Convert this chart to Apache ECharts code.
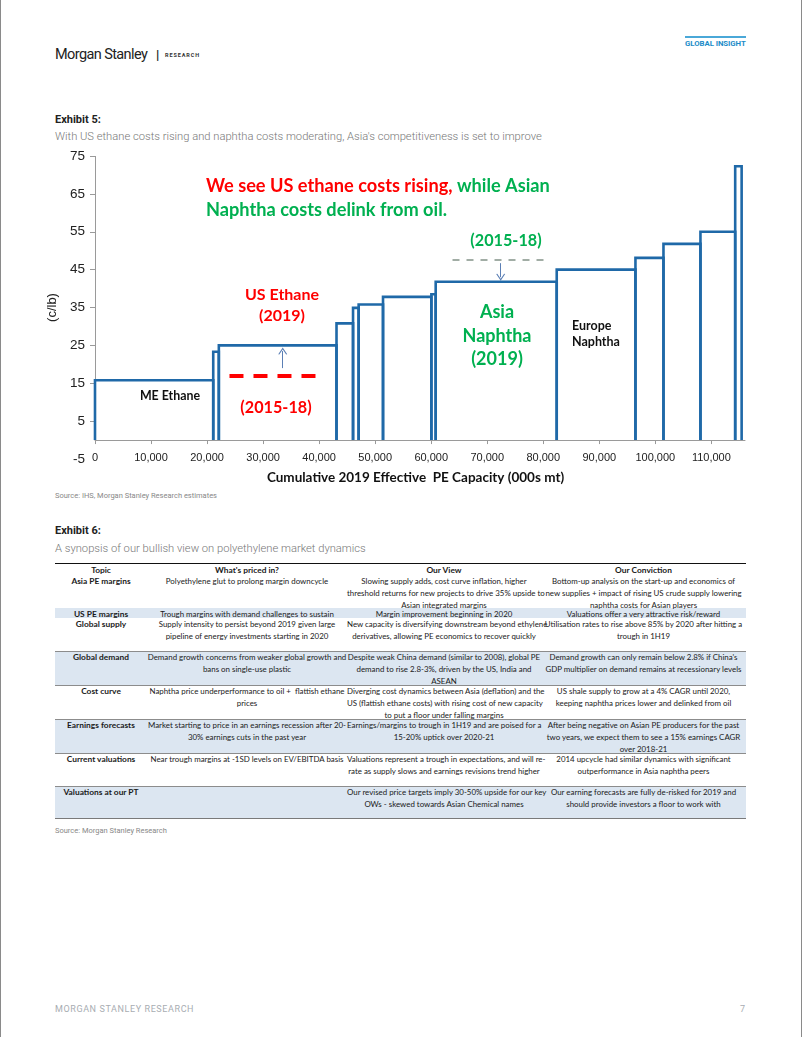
<!DOCTYPE html>
<html>
<head>
<meta charset="utf-8">
<script src="https://cdn.jsdelivr.net/npm/echarts@6/dist/echarts.min.js"></script>
<style>
  html, body { margin:0; padding:0; background:#fff; }
  body { width:802px; height:1037px; position:relative; overflow:hidden; font-family: Roboto, "Noto Sans", sans-serif; }
  .abs { position:absolute; white-space:nowrap; }
  .edge { position:absolute; top:0; width:1px; height:1037px; background:#8a8a8a; }
  .cell { position:absolute; text-align:center; white-space:pre; font-family: Lato, "Noto Sans", sans-serif; font-size:7.9px; line-height:12px; color:#1a1a1a; }
  .cell.b { font-weight:bold; font-size:8.4px; }
  .rule { position:absolute; left:55px; width:691px; }
</style>
</head>
<body>
<div class="edge" style="left:0"></div>
<div class="edge" style="left:801px"></div>

<div class="abs" style="left:55px;top:46px;font-size:14.5px;line-height:18px;color:#222;letter-spacing:-0.6px;font-family:Roboto">Morgan Stanley</div>
<div class="abs" style="left:156px;top:47px;font-size:13px;line-height:16px;color:#222;font-weight:bold">|</div>
<div class="abs" style="left:165px;top:52px;font-size:5.5px;line-height:7px;color:#333;font-weight:bold;letter-spacing:0.9px">RESEARCH</div>
<div class="abs" style="left:685px;top:36px;width:61px;height:2px;background:#4aa8d8"></div>
<div class="abs" style="left:685px;top:39px;font-size:7.8px;line-height:10px;color:#1a8cc8;font-weight:bold;letter-spacing:-0.05px">GLOBAL INSIGHT</div>

<div class="abs" style="left:55px;top:113px;font-size:11px;line-height:14px;color:#222;font-weight:bold">Exhibit 5:</div>
<div class="abs" style="left:55px;top:130px;font-size:11.2px;line-height:14px;color:#777;font-weight:300">With US ethane costs rising and naphtha costs moderating, Asia's competitiveness is set to improve</div>

<div id="chart" style="position:absolute;left:0;top:145px;width:802px;height:345px;"></div>

<div class="abs" style="left:55px;top:491px;font-size:7.5px;line-height:10px;color:#888">Source: IHS, Morgan Stanley Research estimates</div>

<div class="abs" style="left:55px;top:524px;font-size:11px;line-height:14px;color:#222;font-weight:bold">Exhibit 6:</div>
<div class="abs" style="left:55px;top:542px;font-size:11.2px;line-height:14px;color:#777;font-weight:300">A synopsis of our bullish view on polyethylene market dynamics</div>

<div id="table"></div>

<div class="abs" style="left:55px;top:826px;font-size:7.5px;line-height:10px;color:#888">Source: Morgan Stanley Research</div>

<div class="abs" style="left:55px;top:1004px;font-size:9px;line-height:11px;color:#a8adb2;letter-spacing:0.6px">MORGAN STANLEY RESEARCH</div>
<div class="abs" style="left:740px;top:1004px;font-size:9px;line-height:11px;color:#a8adb2">7</div>

<script>
// ---------- Exhibit 5 data ----------
const capacityEdges = [0, 21100, 22100, 43100, 46050, 47050, 51400, 60030, 60800, 82400, 96450, 101450, 108050, 114250, 115400];
const cashCosts = [15.8, 23.3, 25.0, 30.8, 34.9, 35.8, 37.8, 38.5, 41.8, 45.0, 48.1, 51.8, 55.0, 72.3];
const xTickValues = [0, 10000, 20000, 30000, 40000, 50000, 60000, 70000, 80000, 90000, 100000, 110000];
const yTickValues = [-5, 5, 15, 25, 35, 45, 55, 65, 75];
const usEthaneHist = [24000, 40300, 17.0];      // from, to, cost (2015-18)
const asiaNaphthaHist = [63800, 81100, 47.7];   // from, to, cost (2015-18)
const usArrow = [33500, 19.0, 23.5];            // x, from, to
const asiaArrow = [72400, 46.7, 43.0];          // x, from, to

// ---------- Exhibit 6 data ----------
const tableHeader = ["Topic", "What's priced in?", "Our View", "Our Conviction"];
const tableTopics = ["Asia PE margins", "US PE margins", "Global supply", "Global demand", "Cost curve", "Earnings forecasts", "Current valuations", "Valuations at our PT"];
const tablePriced = [
  "Polyethylene glut to prolong margin downcycle",
  "Trough margins with demand challenges to sustain",
  "Supply intensity to persist beyond 2019 given large\npipeline of energy investments starting in 2020",
  "Demand growth concerns from weaker global growth and\nbans on single-use plastic",
  "Naphtha price underperformance to oil +  flattish ethane\nprices",
  "Market starting to price in an earnings recession after 20-\n30% earnings cuts in the past year",
  "Near trough margins at -1SD levels on EV/EBITDA basis",
  ""
];
const tableView = [
  "Slowing supply adds, cost curve inflation, higher\nthreshold returns for new projects to drive 35% upside to\nAsian integrated margins",
  "Margin improvement beginning in 2020",
  "New capacity is diversifying downstream beyond ethylene\nderivatives, allowing PE economics to recover quickly",
  "Despite weak China demand (similar to 2008), global PE\ndemand to rise 2.8-3%, driven by the US, India and\nASEAN",
  "Diverging cost dynamics between Asia (deflation) and the\nUS (flattish ethane costs) with rising cost of new capacity\nto put a floor under falling margins",
  "Earnings/margins to trough in 1H19 and are poised for a\n15-20% uptick over 2020-21",
  "Valuations represent a trough in expectations, and will re-\nrate as supply slows and earnings revisions trend higher",
  "Our revised price targets imply 30-50% upside for our key\nOWs - skewed towards Asian Chemical names"
];
const tableConviction = [
  "Bottom-up analysis on the start-up and economics of\nnew supplies + impact of rising US crude supply lowering\nnaphtha costs for Asian players",
  "Valuations offer a very attractive risk/reward",
  "Utilisation rates to rise above 85% by 2020 after hitting a\ntrough in 1H19",
  "Demand growth can only remain below 2.8% if China's\nGDP multiplier on demand remains at recessionary levels",
  "US shale supply to grow at a 4% CAGR until 2020,\nkeeping naphtha prices lower and delinked from oil",
  "After being negative on Asian PE producers for the past\ntwo years, we expect them to see a 15% earnings CAGR\nover 2018-21",
  "2014 upcycle had similar dynamics with significant\noutperformance in Asia naphtha peers",
  "Our earning forecasts are fully de-risked for 2019 and\nshould provide investors a floor to work with"
];

// ---------- build table ----------
(function buildTable() {
  const host = document.getElementById('table');
  const colLeft = [55, 147, 347, 541];
  const colWidth = [92, 200, 194, 205];
  const rowTop = [575, 608, 618, 651, 685, 719, 753, 786];
  const rowBottom = 818;
  const shaded = [1, 3, 5, 7];
  let html = '';
  rowTop.forEach((t, i) => {
    const b = i + 1 < rowTop.length ? rowTop[i + 1] : rowBottom;
    if (shaded.includes(i)) html += `<div class="rule" style="top:${t}px;height:${b - t}px;background:#dce6f1"></div>`;
  });
  [651, 685, 719, 753, 786].forEach(y => { html += `<div class="rule" style="top:${y - 0.5}px;height:1.5px;background:#8c8c8c"></div>`; });
  html += `<div class="rule" style="top:${rowBottom - 0.5}px;height:1.5px;background:#7a7a7a"></div>`;
  html += `<div class="rule" style="top:562.5px;height:1.6px;background:#111"></div>`;
  tableHeader.forEach((h, c) => {
    html += `<div class="cell b" style="left:${colLeft[c]}px;width:${colWidth[c]}px;top:564px">${h}</div>`;
  });
  const cols = [tableTopics, tablePriced, tableView, tableConviction];
  rowTop.forEach((t, i) => {
    cols.forEach((col, c) => {
      const txt = col[i].replace(/&/g, '&amp;').replace(/</g, '&lt;');
      html += `<div class="cell${c === 0 ? ' b' : ''}" style="left:${colLeft[c]}px;width:${colWidth[c]}px;top:${t}px">${txt}</div>`;
    });
  });
  host.innerHTML = html;
})();

// ---------- chart ----------
const chart = echarts.init(document.getElementById('chart'), null, { renderer: 'canvas' });
const stepData = cashCosts.map((c, i) => [capacityEdges[i], capacityEdges[i + 1], c]);
const BLUE = '#1f69a8';
const RED = '#ff0000';
const GREEN = '#00b050';
const calFont = 'Lato, "Open Sans", sans-serif';
const chevron = 'path://M0,10 L5,0 L10,10 L8.8,10.6 L5,3 L1.2,10.6 Z';

chart.setOption({
  animation: false,
  grid: { left: 95, right: 57, top: 11, bottom: 31, containLabel: false, outerBoundsMode: 'none' },
  xAxis: {
    type: 'value', min: 0, max: 116000,
    axisLine: { onZero: true, lineStyle: { color: '#9a9a9a', width: 1 } },
    axisTick: { show: true, length: 4, inside: false, customValues: xTickValues, lineStyle: { color: '#9a9a9a' } },
    axisLabel: {
      customValues: xTickValues, margin: -7, fontSize: 11, color: '#222',
      fontFamily: 'Liberation Sans, Arial, sans-serif',
      formatter: v => Number(v).toLocaleString('en-US')
    },
    splitLine: { show: false },
    name: 'Cumulative 2019 Effective  PE Capacity (000s mt)',
    nameLocation: 'middle', nameGap: 12,
    nameTextStyle: { fontFamily: calFont, fontWeight: 'bold', fontSize: 13.5, color: '#111', padding: [0, 9, 0, 0] }
  },
  yAxis: {
    type: 'value', min: -5, max: 75,
    axisLine: { show: false },
    axisTick: { show: true, length: 5, customValues: yTickValues.slice(1), lineStyle: { color: '#9a9a9a' } },
    axisLabel: { customValues: yTickValues, margin: 10, fontSize: 13.5, color: '#222', fontFamily: 'Liberation Sans, Arial, sans-serif' },
    splitLine: { show: false },
    name: '(c/lb)', nameLocation: 'middle', nameGap: 30, nameRotate: 90,
    nameTextStyle: { fontSize: 13, color: '#222', fontFamily: 'Liberation Sans, Arial, sans-serif' }
  },
  series: [
    {
      type: 'custom',
      name: 'Cost curve',
      data: stepData,
      encode: { x: [0, 1], y: 2 },
      z: 5,
      renderItem: function (params, api) {
        const x0 = api.value(0), x1 = api.value(1), y = api.value(2);
        const p0 = api.coord([x0, 0]), p1 = api.coord([x0, y]), p2 = api.coord([x1, y]), p3 = api.coord([x1, 0]);
        return {
          type: 'polyline',
          shape: { points: [p0, p1, p2, p3] },
          style: { fill: 'none', stroke: BLUE, lineWidth: 2.6, lineJoin: 'miter' }
        };
      }
    },
    {
      type: 'line', name: 'guides', data: [], silent: true, z: 3,
      markLine: {
        silent: true, symbol: ['none', 'none'], label: { show: false }, animation: false,
        data: [
          [{ coord: [0, 0], lineStyle: { color: '#9a9a9a', width: 1, type: 'solid' } }, { coord: [0, 75] }],
          [{ coord: [usEthaneHist[0], usEthaneHist[2]], lineStyle: { color: RED, width: 4, type: [14, 10] } }, { coord: [usEthaneHist[1], usEthaneHist[2]] }],
          [{ coord: [asiaNaphthaHist[0], asiaNaphthaHist[2]], lineStyle: { color: '#8a9a90', width: 1.6, type: [7, 7] } }, { coord: [asiaNaphthaHist[1], asiaNaphthaHist[2]] }]
        ]
      }
    },
    {
      type: 'line', name: 'arrows', data: [], silent: true, z: 4,
      markLine: {
        silent: true, symbol: ['none', chevron], symbolSize: [9, 7], label: { show: false }, animation: false,
        lineStyle: { color: '#5b7fb5', width: 1, type: 'solid' },
        data: [
          [{ coord: [usArrow[0], usArrow[1]] }, { coord: [usArrow[0], usArrow[2]] }],
          [{ coord: [asiaArrow[0], asiaArrow[1]] }, { coord: [asiaArrow[0], asiaArrow[2]] }]
        ]
      }
    }
  ],
  graphic: [
    {
      type: 'text', x: 206, y: 29, z: 10,
      style: {
        text: '{r|We see US ethane costs rising,} {g|while Asian}\n{g|Naphtha costs delink from oil.}',
        font: 'bold 18.2px ' + calFont, verticalAlign: 'top', align: 'left',
        rich: {
          r: { fill: RED, font: 'bold 18.2px ' + calFont, lineHeight: 24 },
          g: { fill: GREEN, font: 'bold 18.2px ' + calFont, lineHeight: 24 }
        }
      }
    },
    { type: 'text', x: 506, y: 96, style: { text: '(2015-18)', fill: GREEN, font: 'bold 16.2px ' + calFont, align: 'center', verticalAlign: 'middle' } },
    { type: 'text', x: 282, y: 150, style: { text: 'US Ethane', fill: RED, font: 'bold 16px ' + calFont, align: 'center', verticalAlign: 'middle' } },
    { type: 'text', x: 282, y: 171, style: { text: '(2019)', fill: RED, font: 'bold 16px ' + calFont, align: 'center', verticalAlign: 'middle' } },
    { type: 'text', x: 276, y: 263, style: { text: '(2015-18)', fill: RED, font: 'bold 16.2px ' + calFont, align: 'center', verticalAlign: 'middle' } },
    { type: 'text', x: 170, y: 251, style: { text: 'ME Ethane', fill: '#111', font: 'bold 12.4px ' + calFont, align: 'center', verticalAlign: 'middle' } },
    { type: 'text', x: 497, y: 167, style: { text: 'Asia', fill: GREEN, font: 'bold 18px ' + calFont, align: 'center', verticalAlign: 'middle' } },
    { type: 'text', x: 497, y: 191, style: { text: 'Naphtha', fill: GREEN, font: 'bold 18px ' + calFont, align: 'center', verticalAlign: 'middle' } },
    { type: 'text', x: 497, y: 214, style: { text: '(2019)', fill: GREEN, font: 'bold 18px ' + calFont, align: 'center', verticalAlign: 'middle' } },
    { type: 'text', x: 572, y: 181, style: { text: 'Europe', fill: '#111', font: 'bold 12.5px ' + calFont, align: 'left', verticalAlign: 'middle' } },
    { type: 'text', x: 572, y: 197, style: { text: 'Naphtha', fill: '#111', font: 'bold 12.5px ' + calFont, align: 'left', verticalAlign: 'middle' } }
  ]
});
</script>
</body>
</html>
